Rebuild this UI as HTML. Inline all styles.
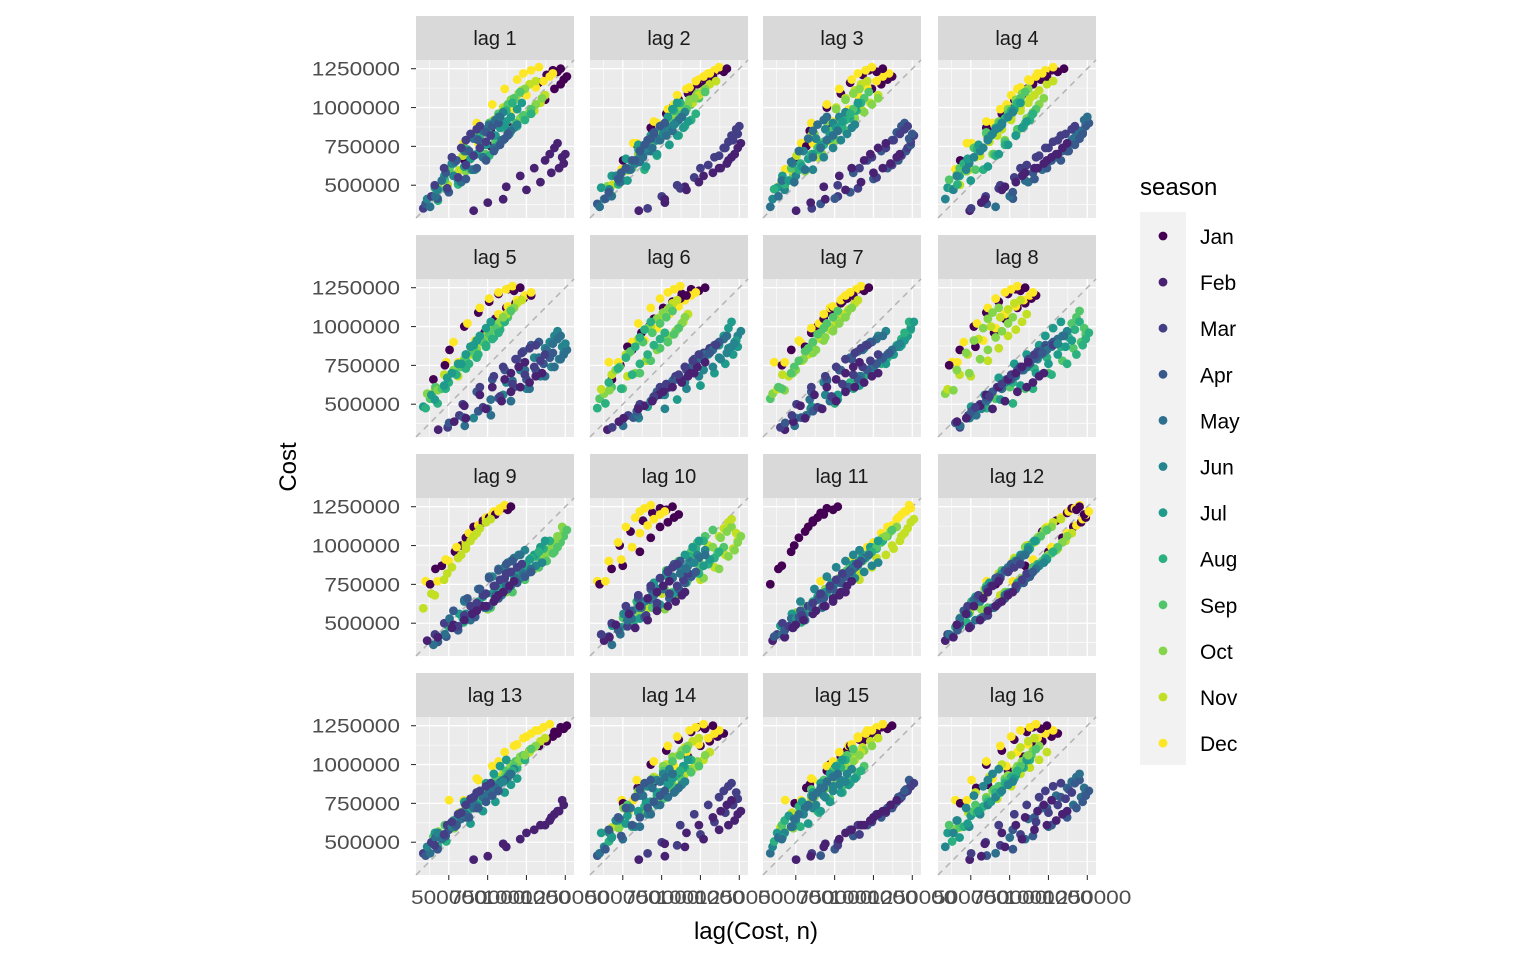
<!DOCTYPE html>
<html><head><meta charset="utf-8"><style>
body{margin:0;background:#fff}
svg{display:block;font-family:"Liberation Sans",Arial,sans-serif}
</style></head><body>
<svg id="c" width="1536" height="960"></svg>
<script>
// Monthly Cost series (thousands), starting July 1991
const costK = [
430,401,432,493,502,603,660,336,351,380,361,411,
484,475,535,568,596,771,751,388,428,414,429,471,
560,505,610,590,690,770,850,410,500,455,530,560,
530,640,600,720,680,900,870,490,480,580,520,640,
670,600,740,700,820,910,1000,470,610,540,650,600,
620,730,700,830,780,1020,960,560,550,660,600,720,
760,690,840,790,920,990,1090,520,680,610,720,680,
700,800,780,910,860,1120,1050,610,630,720,680,800,
820,760,900,850,1000,1080,1160,580,740,660,800,740,
760,870,860,990,940,1180,1120,660,690,790,740,860,
880,820,960,930,1060,1130,1210,610,790,720,850,790,
820,930,900,1050,980,1220,1150,700,740,840,790,900,
940,880,1020,970,1110,1170,1240,640,830,760,890,830,
870,980,950,1090,1030,1240,1180,740,780,880,820,940,
990,920,1060,1020,1150,1200,1230,680,860,800,920,870,
910,1030,990,1120,1080,1260,1200,770,820,900,850,970,
1030,960,1100,1060,1170,1220,1250,700,880,830,940,890
];
const months = ["Jan","Feb","Mar","Apr","May","Jun","Jul","Aug","Sep","Oct","Nov","Dec"];
const startMonth = 6; // July index
const lags = [1,2,3,4,5,6,7,8,9,10,11,12,13,14,15,16];
const yTicks = [500000,750000,1000000,1250000];
const xTickLabels = ["500000","750000","1000000","1250000"];
const colors = ["#440154","#482173","#433E85","#38598C","#2D708E","#25858E","#1E9B8A","#2BB07F","#51C56A","#85D54A","#C2DF23","#FDE725"];

const svg = document.getElementById('c');
const NS = "http://www.w3.org/2000/svg";
function mk(tag, attrs, parent){const e=document.createElementNS(NS,tag);for(const k in attrs)e.setAttribute(k,attrs[k]);(parent||svg).appendChild(e);return e;}
const cost = costK.map(v=>v*1000);
const lo = 289000, hi = 1306000;
const colX = [416,590,763,938], rowY = [60,279,498,717], PW = 158, PH = 158;
function sx(v,x0){return x0+(v-lo)/(hi-lo)*PW;}
function sy(v,y0){return y0+PH-(v-lo)/(hi-lo)*PH;}

lags.forEach((n,i)=>{
  const c=i%4, r=Math.floor(i/4), x0=colX[c], y0=rowY[r];
  const g=mk('g',{});
  
  
  const strip=mk('rect',{x:x0,y:y0-44,width:PW,height:44,fill:'#d9d9d9'},g);
  
  
  const st=mk('text',{x:x0+PW/2,y:y0-15,'text-anchor':'middle','font-size':20,fill:'#1a1a1a'},g);
  st.textContent='lag '+n;
  
  
  const bg=mk('rect',{x:x0,y:y0,width:PW,height:PH,fill:'#ebebeb'},g);
  
  
  const minors=[375000,625000,875000,1125000];
  minors.forEach(m=>{
    mk('line',{x1:x0,x2:x0+PW,y1:sy(m,y0),y2:sy(m,y0),stroke:'#fff','stroke-width':0.6},g);
    mk('line',{y1:y0,y2:y0+PH,x1:sx(m,x0),x2:sx(m,x0),stroke:'#fff','stroke-width':0.6},g);
  });
  yTicks.forEach(t=>{
    mk('line',{x1:x0,x2:x0+PW,y1:sy(t,y0),y2:sy(t,y0),stroke:'#fff','stroke-width':1.3},g);
    mk('line',{y1:y0,y2:y0+PH,x1:sx(t,x0),x2:sx(t,x0),stroke:'#fff','stroke-width':1.3},g);
  });
  const dl=mk('line',{x1:sx(lo,x0),y1:sy(lo,y0),x2:sx(hi,x0),y2:sy(hi,y0),stroke:'#b3b3b3','stroke-width':1.5,'stroke-dasharray':'6,5'},g);
  
  
  for(let t=n;t<cost.length;t++){
    const m=(startMonth+t)%12;
    const p=mk('circle',{cx:sx(cost[t-n],x0),cy:sy(cost[t],y0),r:4.4,fill:colors[m]},g);
    
    
  }
  if(c===0){
    yTicks.forEach(t=>{
      mk('line',{x1:x0-5,x2:x0,y1:sy(t,y0),y2:sy(t,y0),stroke:'#333','stroke-width':1.1},g);
      const s=String(t);
      const tl=mk('text',{x:x0-16,y:sy(t,y0)+7,'text-anchor':'end','font-size':19.5,fill:'#4d4d4d',textLength:s.length*12.6,lengthAdjust:'spacingAndGlyphs'},g);
      tl.textContent=s;
      
      
    });
  }
  if(r===3){
    yTicks.forEach((t,k)=>{
      mk('line',{x1:sx(t,x0),x2:sx(t,x0),y1:y0+PH,y2:y0+PH+5,stroke:'#333','stroke-width':1.1},g);
      const s=xTickLabels[k];
      const tl=mk('text',{x:sx(t,x0),y:y0+PH+29,'text-anchor':'middle','font-size':19.5,fill:'#4d4d4d',textLength:s.length*12.6,lengthAdjust:'spacingAndGlyphs'},g);
      tl.textContent=s;
      
      
    });
  }
});
const yt=mk('text',{x:0,y:0,transform:'translate(296,467) rotate(-90)','text-anchor':'middle','font-size':24,fill:'#000'});
yt.textContent='Cost';


const xt=mk('text',{x:756,y:939,'text-anchor':'middle','font-size':24,fill:'#000'});
xt.textContent='lag(Cost, n)';


const lg=mk('g',{});


const ltitle=mk('text',{x:1140,y:195,'font-size':24,fill:'#000'},lg);
ltitle.textContent='season';


mk('rect',{x:1140,y:212,width:46,height:553,fill:'#f2f2f2'},lg);
months.forEach((m,i)=>{
  const yy=236+i*46.1;
  const k=mk('circle',{cx:1163,cy:yy,r:4.4,fill:colors[i]},lg);
  
  
  const t=mk('text',{x:1200,y:yy+8,'font-size':21,fill:'#000'},lg);
  t.textContent=m;
  
  
});
</script>
</body></html>
